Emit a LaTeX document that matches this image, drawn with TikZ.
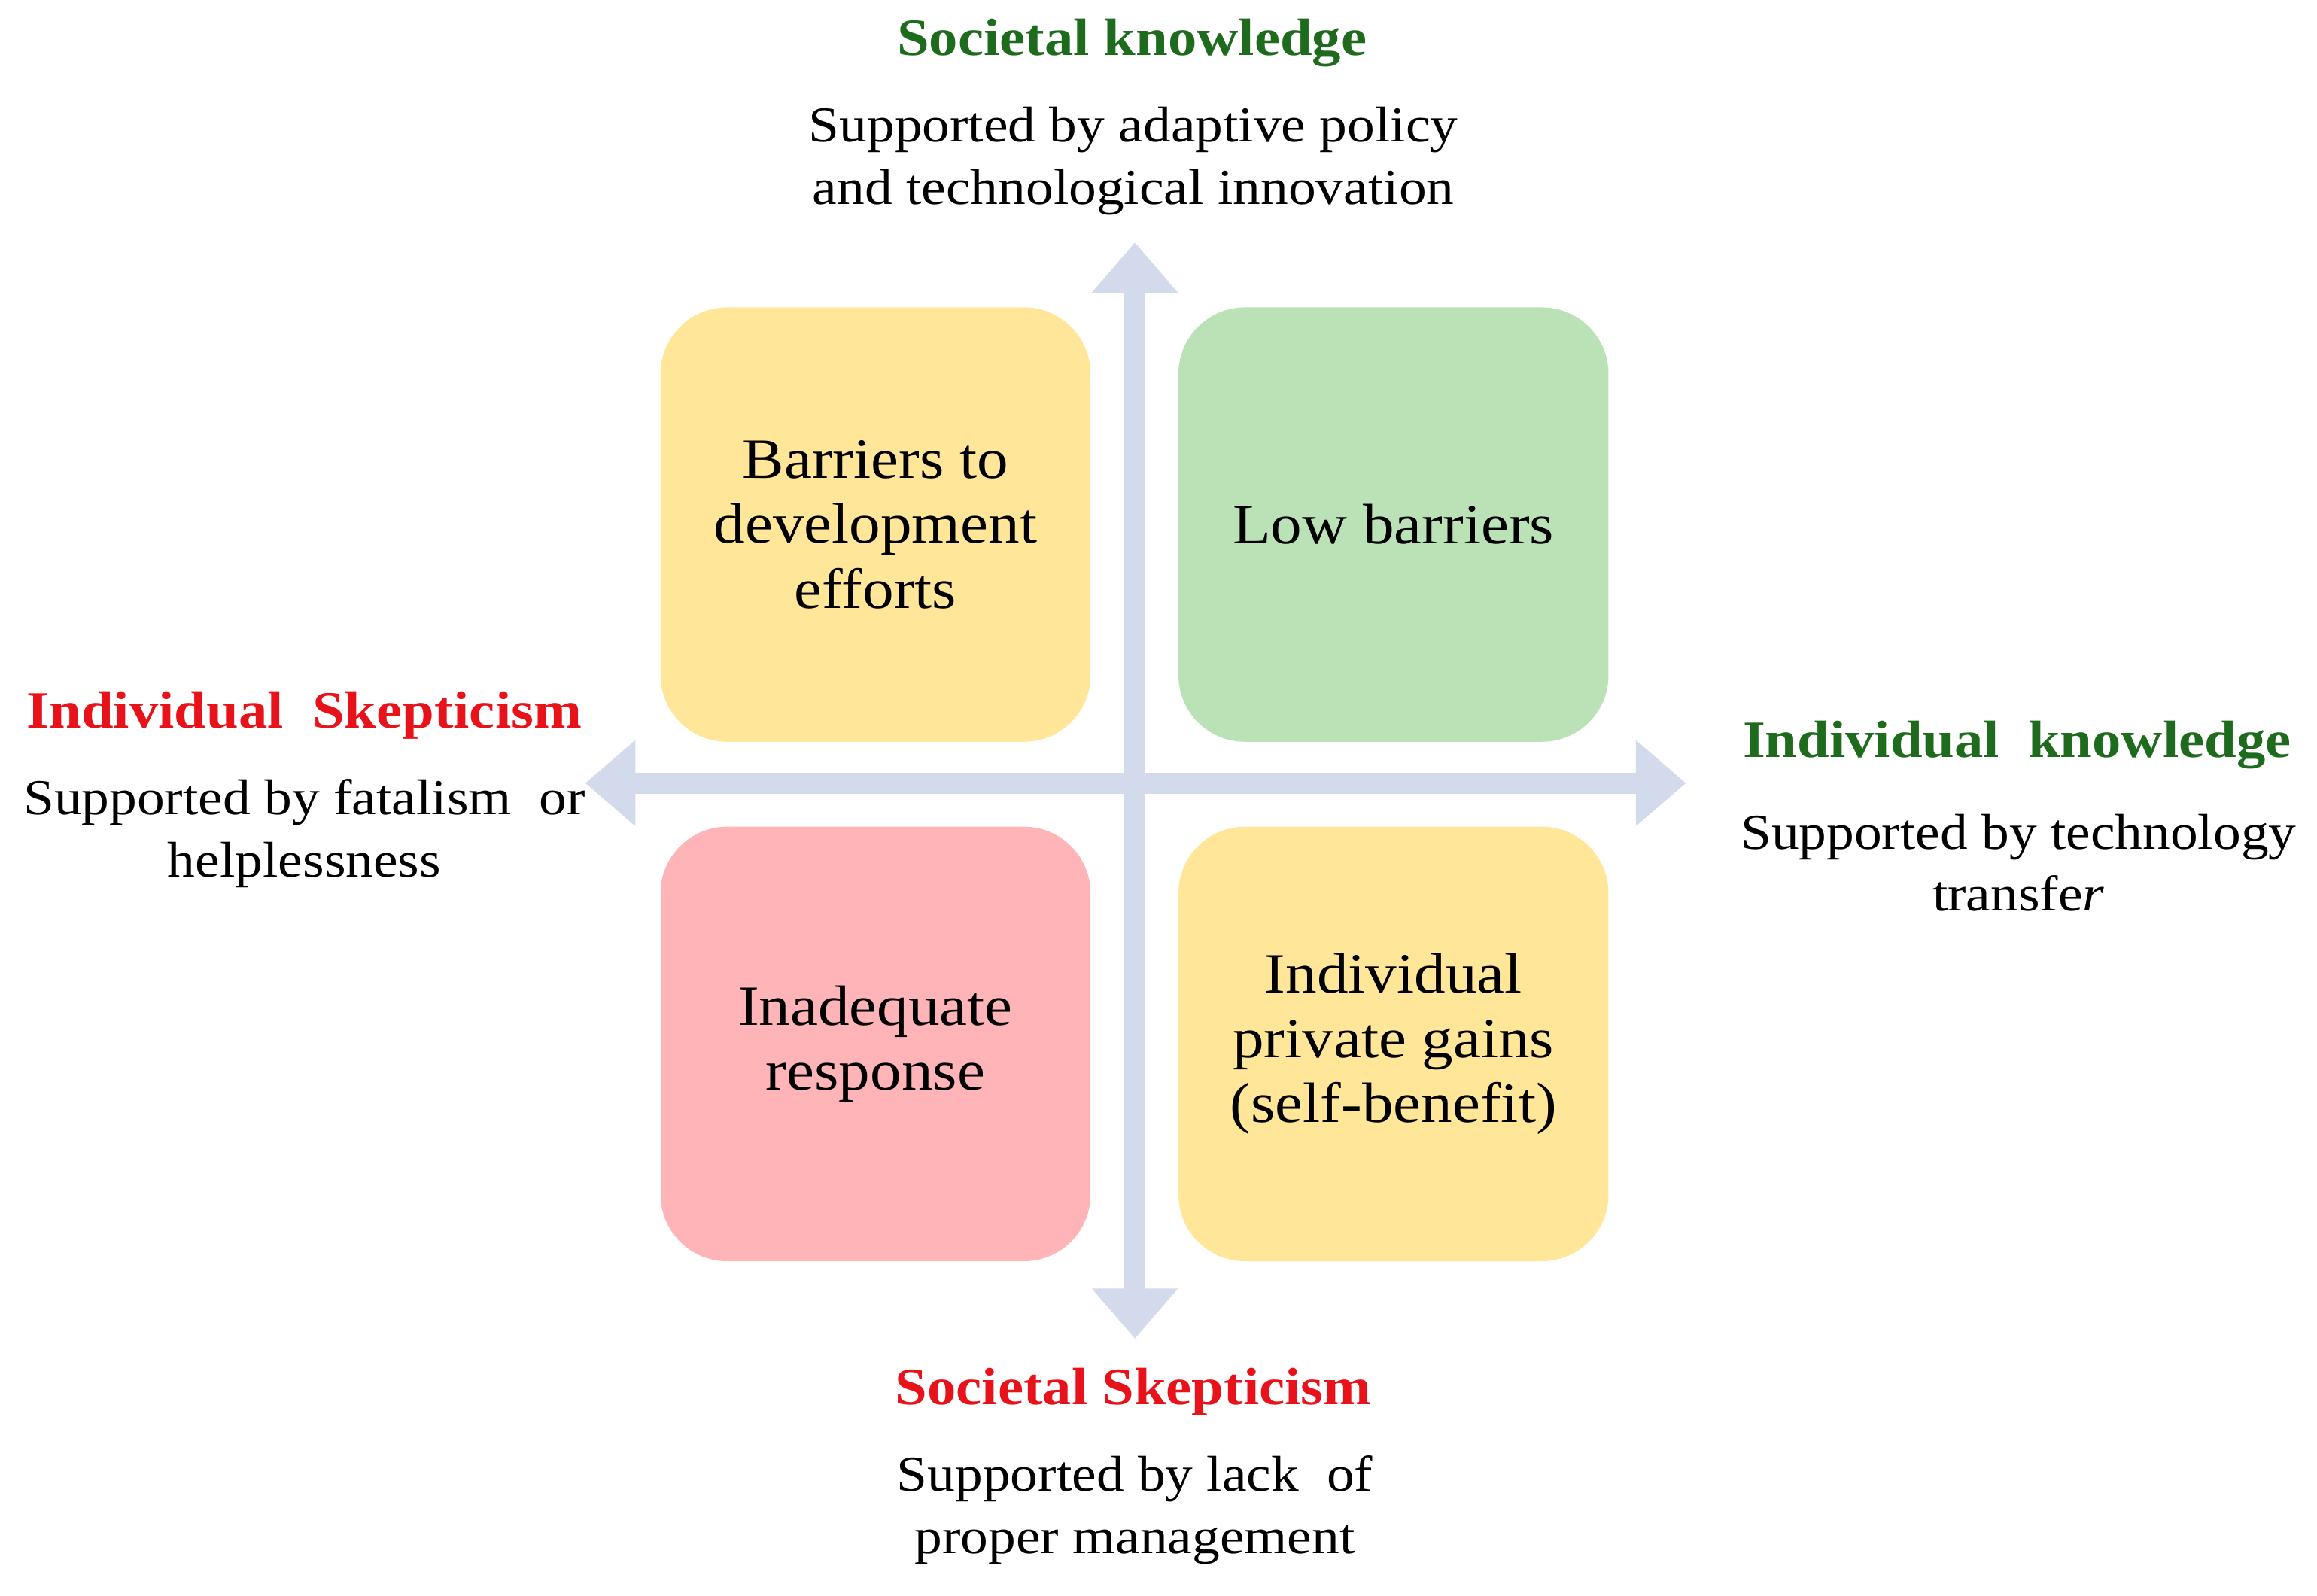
\documentclass[tikz,border=0pt]{standalone}
\usepackage{fontspec}
\setmainfont{Liberation Serif}[FakeStretch=1.1]
\usetikzlibrary{arrows.meta}
\definecolor{axis}{HTML}{D3DAEC}
\definecolor{yel}{HTML}{FFE699}
\definecolor{grn}{HTML}{BBE2B6}
\definecolor{pnk}{HTML}{FFB5B7}
\definecolor{dgreen}{HTML}{1E6B1E}
\definecolor{dred}{HTML}{E8121A}
\begin{document}
\begin{tikzpicture}[x=1pt,y=-1pt,
  quad/.style={rounded corners=45pt,minimum width=291pt,minimum height=294pt,inner sep=0pt,align=center,font=\fontsize{38.5}{44}\selectfont},
  lbl/.style={align=center,font=\fontsize{34}{42}\selectfont},
  ttl/.style={font=\fontsize{35.5}{38}\selectfont\bfseries},
  ax/.style={line width=14pt,color=axis,{Triangle[width=56pt,length=34pt]}-{Triangle[width=56pt,length=34pt]}}]
\useasboundingbox (0,0) rectangle (1568,1080);
\coordinate (vt) at (768,164);
\coordinate (vb) at (768,906);
\coordinate (hl) at (396,530);
\coordinate (hr) at (1141,530);
\draw[ax] (vb) -- (vt);
\draw[ax] (hl) -- (hr);
\node[quad,fill=yel] (tl) at (592.5,355) {Barriers to\\development\\efforts};
\node[quad,fill=grn] (tr) at (943,355) {Low barriers};
\node[quad,fill=pnk] (bl) at (592.5,706.5) {Inadequate\\response};
\node[quad,fill=yel] (br) at (943,706.5) {Individual\\private gains\\(self-benefit)};
\node[ttl,text=dgreen] (sk) at (766,29) {Societal knowledge};
\node[lbl] (skd) at (767,109) {Supported by adaptive policy\\and technological innovation};
\node[ttl,text=dred] (is) at (206,484) {Individual\ \ Skepticism};
\node[lbl] (isd) at (206,564) {Supported by fatalism\ \ or\\helplessness};
\node[ttl,text=dgreen] (ik) at (1365,504) {Individual\ \ knowledge};
\node[lbl] (ikd) at (1366,584) {Supported by technology\\transfe\textit{r}};
\node[ttl,text=dred] (ss) at (767,942) {Societal Skepticism};
\node[lbl] (ssd) at (768,1022) {Supported by lack\ \ of\\proper management};
\end{tikzpicture}
\end{document}
